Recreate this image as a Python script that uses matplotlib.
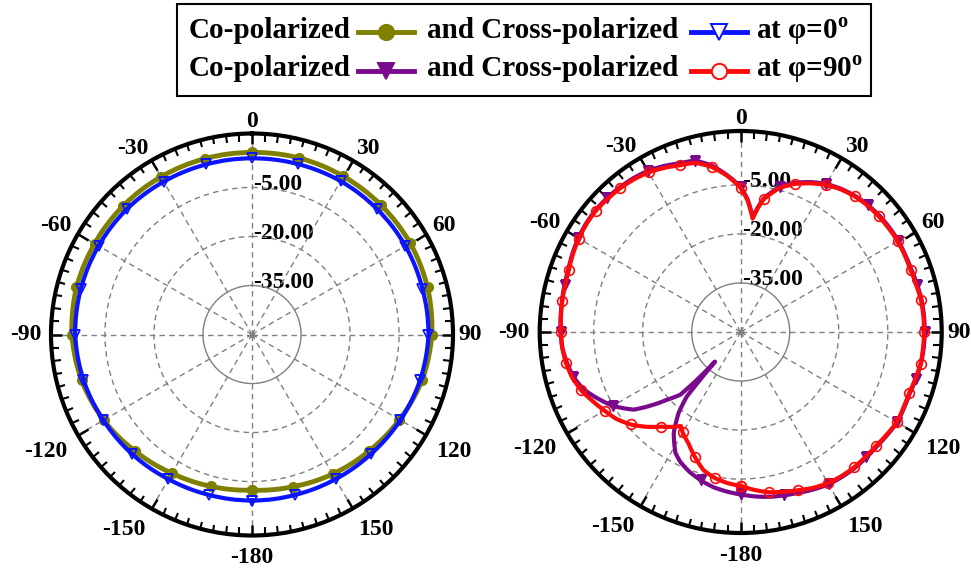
import numpy as np
import matplotlib
matplotlib.use("Agg")
import matplotlib.pyplot as plt
from matplotlib.lines import Line2D
from matplotlib.patches import Rectangle

plt.rcParams['font.family'] = ['Liberation Serif', 'DejaVu Serif']
plt.rcParams['font.weight'] = 'bold'
plt.rcParams['mathtext.fontset'] = 'custom'
plt.rcParams['mathtext.rm'] = 'Liberation Serif:bold'
plt.rcParams['mathtext.bf'] = 'Liberation Serif:bold'

# ---- data: angle (deg), gain (dB) ----
# phi = 0 cut
phi0_angle = [-180, -165, -150, -135, -120, -105, -90, -75, -60, -45, -30, -15,
              0, 15, 30, 45, 60, 75, 90, 105, 120, 135, 150, 165, 180]
phi0_co = [-2.4, -1.9, -1.0, 0.5, 2.4, 4.0, 5.1, 5.6, 5.6, 5.7, 5.7, 5.7,
           5.7, 5.9, 5.9, 5.9, 5.9, 5.6, 5.0, 3.9, 2.1, 0.5, -0.7, -1.8, -2.4]
phi0_cross = [0.8, 0.8, 1.1, 1.8, 2.5, 3.4, 4.1, 4.2, 4.2, 4.2, 4.0, 3.9,
              3.9, 4.0, 4.2, 4.2, 4.2, 4.0, 4.0, 3.3, 2.4, 1.6, 1.1, 0.8, 0.8]

# phi = 90 cut
phi90_angle_co = [-180, -175, -170, -165, -160, -155, -151.6, -146.4, -142.5, -140.1,
                  -139.1, -137.5, -136.1, -132.6, -126, -120, -116, -110, -105, -100,
                  -95, -90, -85, -80, -75, -70, -65, -60, -55, -50, -45, -40, -35,
                  -30, -25, -20, -15, -10, -5, 0, 3, 6, 8, 10, 15, 20, 25, 30, 35,
                  40, 45, 50, 55, 60, 65, 70, 75, 80, 85, 90, 95, 100, 105, 110,
                  115, 120, 125, 130, 135, 140, 145, 150, 155, 160, 165, 170, 175, 180]
phi90_co = [-0.3, -1.0, -1.8, -3.0, -4.4, -6.2, -8.0, -13.0, -18.8, -24.3,
            -38.0, -30.2, -23.4, -19.4, -9.6, -4.8, -2.4, 1.2, 3.0, 4.0,
            4.8, 5.1, 5.3, 5.5, 5.8, 6.1, 6.8, 7.4, 7.8, 8.0, 7.9, 7.7, 7.4,
            6.9, 6.0, 4.9, 4.3, 1.8, -1.8, -5.6, -9.4, -14.8, -11.2, -8.3, -4.0, -1.4, 0.6, 2.3, 3.5,
            4.4, 5.0, 5.4, 5.6, 5.7, 5.6, 5.6, 5.9, 6.2, 6.3, 6.3, 6.2, 6.0, 5.5, 5.0,
            5.1, 5.3, 4.8, 4.4, 4.3, 4.3, 4.1, 3.8, 3.1, 2.3, 1.7, 1.2, 0.5, -0.3]

phi90_angle_cross = [-180, -175, -170, -165, -160, -155, -150, -147.5, -145, -140,
                     -135, -130, -125, -120, -115, -110, -105, -100, -95, -90, -85,
                     -80, -75, -70, -65, -60, -55, -50, -45, -40, -35, -30, -25, -20,
                     -15, -10, -5, 0, 3, 6, 8, 10, 15, 20, 25, 30, 35, 40, 45, 50, 55,
                     60, 65, 70, 75, 80, 85, 90, 95, 100, 105, 110, 115, 120, 125, 130,
                     135, 140, 145, 150, 155, 160, 165, 170, 175, 180]
phi90_cross = [-2.9, -3.6, -4.6, -6.2, -9.2, -12.3, -14.5, -15.9, -14.6, -12.2,
               -9.0, -6.0, -3.6, -1.9, 0.0, 2.0, 3.4, 4.3, 4.8, 5.0, 5.2,
               5.4, 5.6, 5.9, 6.6, 7.2, 7.6, 7.8, 7.6, 7.4, 7.0, 6.4, 5.4, 4.3,
               3.6, 1.3, -2.0, -5.9, -9.7, -15.1, -11.5, -8.6, -4.4, -1.8, 0.2, 2.0, 3.3, 4.2, 4.8, 5.1, 5.3,
               5.5, 5.4, 5.3, 5.6, 6.0, 6.1, 6.1, 6.0, 5.9, 5.3, 4.8, 4.9, 5.2, 4.6, 4.1,
               4.0, 4.0, 3.8, 3.4, 2.6, 1.5, 0.6, -0.2, -1.5, -2.9]

theta_ticks = [0, 30, 60, 90, 120, 150, 180, 210, 240, 270, 300, 330]
theta_labels = ["0", "30", "60", "90", "120", "150", "-180", "-150", "-120", "-90", "-60", "-30"]
r_rings = [-35, -20, -5]
r_min, r_max = -50, 11.5

W, H = 971, 569
fig = plt.figure(figsize=(W / 100, H / 100), dpi=100)


def fx(px):
    return px / W


def fy(py):  # pixel measured from top
    return 1 - py / H


def setup_polar(ax):
    ax.set_theta_zero_location('N')
    ax.set_theta_direction(-1)
    ax.set_ylim(r_min, r_max)
    ax.set_xticks(np.deg2rad(theta_ticks))
    ax.set_xticklabels([])
    ax.set_xticks(np.deg2rad(np.arange(0, 360, 3.75)), minor=True)
    # tick marks on the outer circle only
    ax.tick_params(axis='x', which='both', top=True, bottom=False)
    ax.tick_params(axis='x', which='major', direction='in', length=8, width=1.8)
    ax.tick_params(axis='x', which='minor', direction='in', length=5.5, width=1.5)
    ax.set_yticks(r_rings)
    ax.set_yticklabels([])
    ax.grid(True, color='#808080', linestyle=(0, (4, 3)), linewidth=1.0)
    ax.yaxis.get_major_ticks()[0].gridline.set_linestyle('-')
    ax.spines['polar'].set_linewidth(3)

    # angle labels just outside the circle, anchored by the nearest corner
    for deg, lab in zip(theta_ticks, theta_labels):
        s, c = np.sin(np.deg2rad(deg)), np.cos(np.deg2rad(deg))
        ha = 'center' if abs(s) < 0.1 else ('left' if s > 0 else 'right')
        if abs(c) < 0.1:
            va, gap = 'center', (4 if s > 0 else 7)
        elif c > 0:
            va, gap = 'baseline', 5
        else:
            va, gap = 'top', 8.5
        ax.annotate(lab, xy=(np.deg2rad(deg), r_max), xytext=(gap * s, gap * c),
                    textcoords='offset points', ha=ha, va=va, fontsize=17,
                    annotation_clip=False)

    for rv in r_rings:
        ax.annotate(f"{rv:.2f}", xy=(0, rv), xytext=(1, -1.5), textcoords='offset points',
                    ha='left', va='baseline', fontsize=17, zorder=1)
    ax.plot([0], [r_min], 'o', ms=3, color='#808080')


def smooth(lines):
    # draw segments as arcs in polar space rather than straight chords
    for ln in lines:
        ln.get_path()._interpolation_steps = 12


# ---- left: phi = 0 ----
ax1 = fig.add_axes([fx(51), fy(535.5), 402 / W, 402 / H], projection='polar')
setup_polar(ax1)
smooth(ax1.plot(np.deg2rad(phi0_angle), phi0_co, color='#808000', lw=3.5,
                marker='o', ms=7, zorder=3))
smooth(ax1.plot(np.deg2rad(phi0_angle), phi0_cross, color='#0a14ff', lw=3,
                marker='v', ms=7, mfc='none', mew=1.2, zorder=4))

# ---- right: phi = 90 ----
ax2 = fig.add_axes([fx(539.7), fy(533), 402 / W, 402 / H], projection='polar')
setup_polar(ax2)
co_marks = [i for i, a in enumerate(phi90_angle_co) if a % 15 == 0]
cross_marks = [i for i, a in enumerate(phi90_angle_cross) if a % 10 == 0]
smooth(ax2.plot(np.deg2rad(phi90_angle_co), phi90_co, color='#7a0a8c', lw=3,
                marker='v', ms=7, markevery=co_marks, zorder=3))
smooth(ax2.plot(np.deg2rad(phi90_angle_cross), phi90_cross, color='#ff0a0a', lw=3,
                marker='o', ms=7, mfc='none', mew=1.2, markevery=cross_marks, zorder=4))

# ---- legend box ----
fig.add_artist(Rectangle((fx(177), fy(96)), fx(871) - fx(177), fy(4) - fy(96),
                         transform=fig.transFigure, fill=False, lw=1.5, ec='black'))
rows = [
    (38.5, 31.5, dict(color='#808000', marker='o', mfc='#808000'),
     dict(color='#0a14ff', marker='v', mfc='white'), "at φ=0$^{\\rm o}$"),
    (76.5, 70.5, dict(color='#7a0a8c', marker='v', mfc='#7a0a8c'),
     dict(color='#ff0a0a', marker='o', mfc='white'), "at φ=90$^{\\rm o}$"),
]
for base, ly, co_style, cr_style, tail in rows:
    fig.text(fx(189), fy(base), "Co-polarized", fontsize=21, va='baseline')
    fig.add_artist(Line2D([fx(358), fx(386), fx(414)], [fy(ly)] * 3, transform=fig.transFigure,
                          lw=3.5, ms=11, markevery=[1], mew=1.4, **co_style))
    fig.text(fx(427), fy(base), "and Cross-polarized", fontsize=21, va='baseline')
    fig.add_artist(Line2D([fx(691), fx(719), fx(747)], [fy(ly)] * 3, transform=fig.transFigure,
                          lw=3.5, ms=11, markevery=[1], mew=1.4, **cr_style))
    fig.text(fx(756), fy(base), tail, fontsize=21, va='baseline')

fig.savefig("out.png", dpi=100)
